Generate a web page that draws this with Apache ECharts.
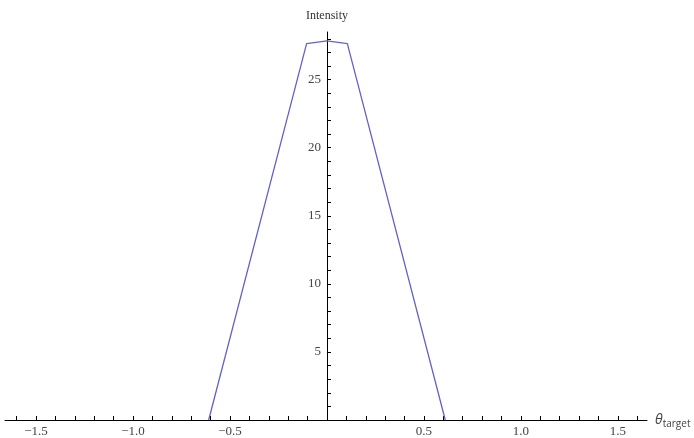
<!DOCTYPE html>
<html>
<head>
<meta charset="utf-8">
<script src="https://cdn.jsdelivr.net/npm/echarts@6/dist/echarts.min.js"></script>
<style>html,body{margin:0;padding:0;background:#fff}#c{width:694px;height:438px}</style>
</head>
<body>
<div id="c"></div>
<script>
// Data
const thetaValues = [-0.61, -0.105, 0.0, 0.105, 0.61];
const intensityValues = [0, 27.65, 27.85, 27.65, 0];
const xTickValues = [];
for (let i = -16; i <= 16; i++) xTickValues.push(i / 10);
const xLabelValues = [-1.5, -1.0, -0.5, 0.5, 1.0, 1.5];
const yTickValues = [];
for (let i = 1; i <= 28; i++) yTickValues.push(i);
const yLabelValues = [5, 10, 15, 20, 25];

const points = thetaValues.map((t, i) => [t, intensityValues[i]]);
const font = '"Liberation Serif", "DejaVu Serif", serif';
const sans = '"Open Sans", "Noto Sans", sans-serif';

const X_MIN = -1.66, X_MAX = 1.65;
const GRID_LEFT = 5, GRID_RIGHT = 47;
const plotW = 694 - GRID_LEFT - GRID_RIGHT;
const yAxisOffset = -plotW * (0 - X_MIN) / (X_MAX - X_MIN);

const chart = echarts.init(document.getElementById('c'), null, {renderer: 'canvas'});
chart.setOption({
  animation: false,
  backgroundColor: '#fff',
  grid: {left: GRID_LEFT, right: GRID_RIGHT, top: 32, bottom: 18, containLabel: false, outerBoundsMode: 'none'},
  xAxis: {
    type: 'value', min: X_MIN, max: X_MAX,
    axisLine: {onZero: false, lineStyle: {color: '#000', width: 1}},
    axisTick: {show: true, inside: true, length: 4, customValues: xTickValues, lineStyle: {color: '#000'}},
    axisLabel: {customValues: xLabelValues, margin: 5, color: '#444', fontFamily: font, fontSize: 13,
      formatter: v => (v < 0 ? '\u2212' : '') + Math.abs(v).toFixed(1)},
    splitLine: {show: false},
    name: '{a|\u03b8}{b|target}',
    nameLocation: 'end', nameGap: 8,
    nameTextStyle: {
      rich: {
        a: {fontFamily: sans, fontStyle: 'italic', fontSize: 14, color: '#444'},
        b: {fontFamily: sans, fontSize: 10, color: '#444', padding: [8, 0, 0, 0]}
      }
    }
  },
  yAxis: {
    type: 'value', min: 0, max: 28.5,
    position: 'left', offset: yAxisOffset,
    axisLine: {onZero: false, lineStyle: {color: '#000', width: 1}},
    axisTick: {show: true, inside: true, length: 4, customValues: yTickValues, lineStyle: {color: '#000'}},
    axisLabel: {customValues: yLabelValues, margin: 6, color: '#444', fontFamily: font, fontSize: 13},
    splitLine: {show: false},
    name: 'Intensity', nameLocation: 'end', nameGap: 10,
    nameTextStyle: {fontFamily: font, fontSize: 12, color: '#333'}
  },
  series: [{
    type: 'line', data: points, showSymbol: false, symbol: 'none',
    lineStyle: {color: '#6464bc', width: 1.3}
  }]
});
</script>
</body>
</html>
